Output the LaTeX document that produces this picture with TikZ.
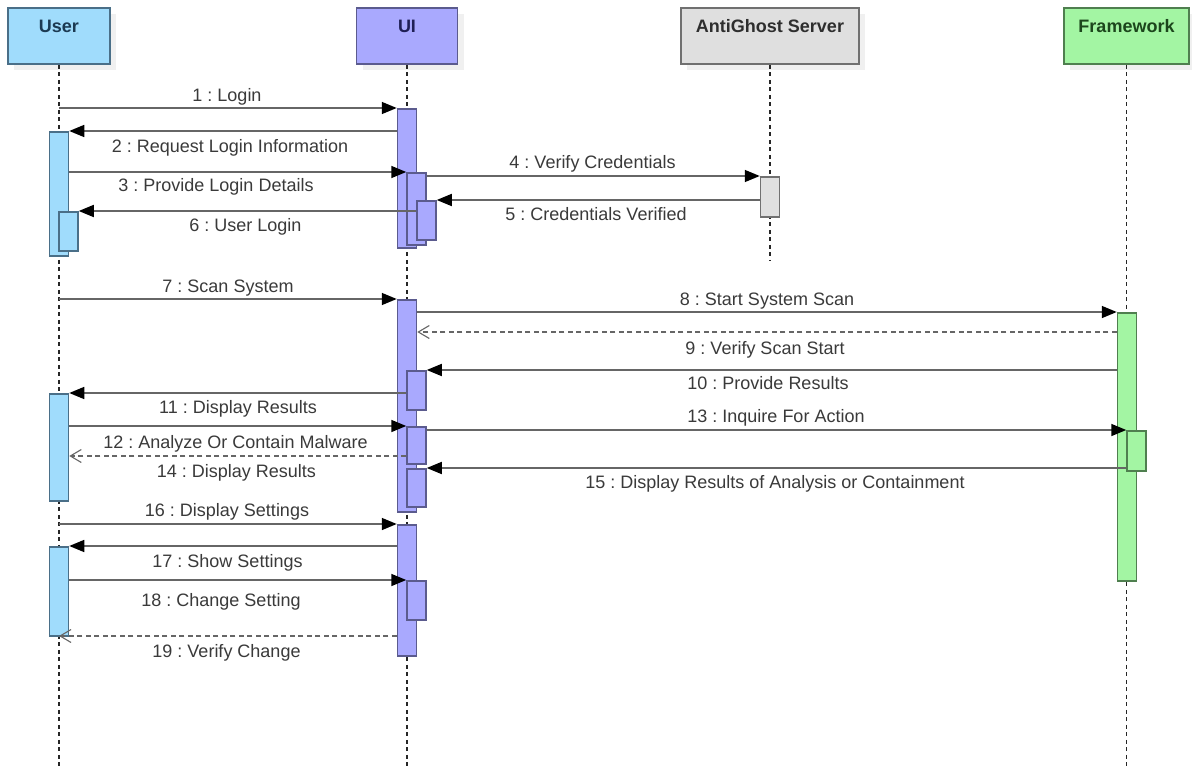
\documentclass[tikz,border=0pt]{standalone}
\usepackage{fontspec}
\setmainfont{Liberation Sans}
\usetikzlibrary{arrows.meta,shadows}
\frenchspacing

\definecolor{userfill}{HTML}{A0DCFC}
\definecolor{userline}{HTML}{4A6F88}
\definecolor{usertext}{HTML}{1C3A52}
\definecolor{uifill}{HTML}{A9A9FE}
\definecolor{uiline}{HTML}{5B5B8E}
\definecolor{uitext}{HTML}{1F1F55}
\definecolor{srvfill}{HTML}{DFDFDF}
\definecolor{srvline}{HTML}{707070}
\definecolor{srvtext}{HTML}{2E2E2E}
\definecolor{fwfill}{HTML}{A3F5A3}
\definecolor{fwline}{HTML}{4F7F4F}
\definecolor{fwtext}{HTML}{1C461C}
\definecolor{msgline}{HTML}{666666}
\definecolor{msgtext}{HTML}{3A3A3A}

\begin{document}
\begin{tikzpicture}[x=1pt,y=-1pt,
  head/.style={rectangle, draw, line width=1.8pt, inner sep=0pt, anchor=north,
    minimum height=56pt, text height=25pt, text depth=31pt,
    font=\fontsize{18}{20}\selectfont\bfseries,
    drop shadow={shadow xshift=6pt, shadow yshift=-6pt, fill=black!6, opacity=1}},
  lifeline/.style={line width=1.1pt, black!85, dash pattern=on 4pt off 3.5pt},
  actbar/.style={rectangle, draw, line width=1.5pt, inner sep=0pt, anchor=north, minimum width=19pt},
  userbar/.style={actbar, fill=userfill, draw=userline},
  uibar/.style={actbar, fill=uifill, draw=uiline},
  srvbar/.style={actbar, fill=srvfill, draw=srvline},
  fwbar/.style={actbar, fill=fwfill, draw=fwline},
  msg/.style={line width=1.6pt, msgline, -{Triangle[length=15pt,width=12pt,color=black]}},
  reply/.style={line width=1.4pt, msgline, dash pattern=on 5pt off 3.5pt,
    -{Straight Barb[length=11pt,width=13pt,line width=1.1pt]}},
  lbl/.style={font=\fontsize{18}{20}\selectfont\frenchspacing, text=msgtext, inner sep=0pt, anchor=base}
]
\useasboundingbox (0,0) rectangle (1192,766);
\fill[white] (0,0) rectangle (1192,766);

% participants
\node[head, fill=userfill, draw=userline, text=usertext, minimum width=102pt] (hU) at (59,7) {User};
\node[head, fill=uifill, draw=uiline, text=uitext, minimum width=101pt] (hI) at (407,7) {UI};
\node[head, fill=srvfill, draw=srvline, text=srvtext, minimum width=178pt] (hS) at (770,7) {AntiGhost Server};
\node[head, fill=fwfill, draw=fwline, text=fwtext, minimum width=125pt] (hF) at (1126.5,7) {Framework};

% lifelines
\coordinate (bottom) at (0,766);
\coordinate (sEnd) at (770,260);
\draw[lifeline] (hU.south) -- (hU.south |- bottom);
\draw[lifeline] (hI.south) -- (hI.south |- bottom);
\draw[lifeline] (hS.south) -- (sEnd);
\draw[lifeline] (hF.south) -- (hF.south |- bottom);

% activation bars
\node[userbar, minimum height=124pt] (u1) at (59,131) {};
\node[userbar, minimum height=39pt] (u1b) at (68.5,211) {};
\node[userbar, minimum height=107pt] (u2) at (59,393) {};
\node[userbar, minimum height=89pt] (u3) at (59,546) {};

\node[uibar, minimum height=139pt] (i1) at (407,108) {};
\node[uibar, minimum height=72pt] (i1b) at (416.5,172) {};
\node[uibar, minimum height=39pt] (i1c) at (426.5,200) {};
\node[uibar, minimum height=212pt] (i2) at (407,299) {};
\node[uibar, minimum height=39pt] (i2b) at (416.5,370) {};
\node[uibar, minimum height=37pt] (i2c) at (416.5,426) {};
\node[uibar, minimum height=38pt] (i2d) at (416.5,468) {};
\node[uibar, minimum height=131pt] (i3) at (407,524) {};
\node[uibar, minimum height=39pt] (i3b) at (416.5,580) {};

\node[srvbar, minimum height=40pt] (s1) at (770,176) {};

\node[fwbar, minimum height=268pt] (f1) at (1127,312) {};
\node[fwbar, minimum height=40pt] (f1b) at (1136.5,430) {};

% message levels
\coordinate (m1) at (0,108);
\coordinate (m2) at (0,131);
\coordinate (m3) at (0,172);
\coordinate (m4) at (0,176);
\coordinate (m5) at (0,200);
\coordinate (m6) at (0,211);
\coordinate (m7) at (0,299);
\coordinate (m8) at (0,312);
\coordinate (m9) at (0,332);
\coordinate (m10) at (0,370);
\coordinate (m11) at (0,393);
\coordinate (m12) at (0,426);
\coordinate (m13) at (0,430);
\coordinate (m14) at (0,456);
\coordinate (m15) at (0,468);
\coordinate (m16) at (0,524);
\coordinate (m17) at (0,546);
\coordinate (m18) at (0,580);
\coordinate (m19) at (0,636);

% messages
\draw[msg] (hU.south |- m1) -- (i1.west |- m1);
\draw[msg] (i1.west |- m2) -- (u1.east |- m2);
\draw[msg] (u1.east |- m3) -- (i1b.west |- m3);
\draw[msg] (i1b.east |- m4) -- (s1.west |- m4);
\draw[msg] (s1.west |- m5) -- (i1c.east |- m5);
\draw[msg] (i1c.west |- m6) -- (u1b.east |- m6);
\draw[msg] (hU.south |- m7) -- (i2.west |- m7);
\draw[msg] (i2.east |- m8) -- (f1.west |- m8);
\draw[reply] (f1.west |- m9) -- (i2.east |- m9);
\draw[msg] (f1.west |- m10) -- (i2b.east |- m10);
\draw[msg] (i2b.west |- m11) -- (u2.east |- m11);
\draw[msg] (u2.east |- m12) -- (i2c.west |- m12);
\draw[msg] (i2c.east |- m13) -- (f1b.west |- m13);
\draw[reply] (i2c.west |- m14) -- (u2.east |- m14);
\draw[msg] (f1b.west |- m15) -- (i2d.east |- m15);
\draw[msg] (hU.south |- m16) -- (i3.west |- m16);
\draw[msg] (i3.west |- m17) -- (u3.east |- m17);
\draw[msg] (u3.east |- m18) -- (i3b.west |- m18);
\draw[reply] (i3.west |- m19) -- (hU.south |- m19);

% message labels
\node[lbl] (l1) at (227,101) {1 : Login};
\node[lbl] (l2) at (230,152) {2 : Request Login Information};
\node[lbl] (l3) at (216,191) {3 : Provide Login Details};
\node[lbl] (l4) at (592.5,168) {4 : Verify Credentials};
\node[lbl] (l5) at (596,220) {5 : Credentials Verified};
\node[lbl] (l6) at (245.5,231) {6 : User Login};
\node[lbl] (l7) at (228,292) {7 : Scan System};
\node[lbl] (l8) at (767,305) {8 : Start System Scan};
\node[lbl] (l9) at (765,354) {9 : Verify Scan Start};
\node[lbl] (l10) at (768,389) {10 : Provide Results};
\node[lbl] (l11) at (238,413) {11 : Display Results};
\node[lbl] (l12) at (235.5,448) {12 : Analyze Or Contain Malware};
\node[lbl] (l13) at (776,422) {13 : Inquire For Action};
\node[lbl] (l14) at (236.5,477) {14 : Display Results};
\node[lbl] (l15) at (775,488) {15 : Display Results of Analysis or Containment};
\node[lbl] (l16) at (227,516) {16 : Display Settings};
\node[lbl] (l17) at (227.5,567) {17 : Show Settings};
\node[lbl] (l18) at (221,606) {18 : Change Setting};
\node[lbl] (l19) at (226.5,657) {19 : Verify Change};
\end{tikzpicture}
\end{document}
